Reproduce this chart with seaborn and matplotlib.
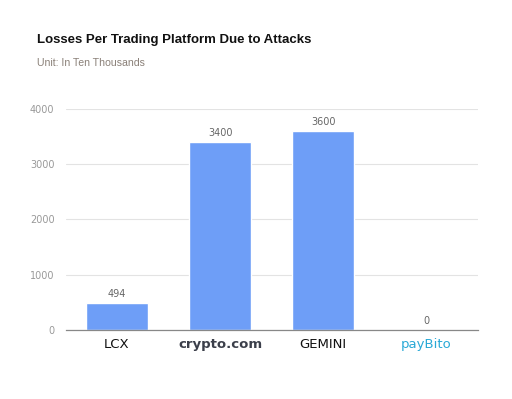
import matplotlib
matplotlib.use('Agg')
import matplotlib.pyplot as plt
import seaborn as sns
import pandas as pd

platforms = ['LCX', 'crypto.com', 'GEMINI', 'payBito']
losses = [494, 3400, 3600, 0]
tick_colors = ['#111111', '#3b3f4a', '#111111', '#29a9d6']
tick_weights = ['normal', 'bold', 'normal', 'normal']
yticks = [0, 1000, 2000, 3000, 4000]

df = pd.DataFrame({'platform': platforms, 'loss': losses})

sns.set_theme(style='white')
plt.rcParams['font.family'] = ['DejaVu Sans']

fig = plt.figure(figsize=(5.12, 3.99), dpi=100)
ax = fig.add_axes([0.128, 0.173, 0.805, 0.554])

sns.barplot(data=df, x='platform', y='loss', color='#6e9ef7', width=0.6,
            saturation=1, ax=ax)

ax.set_ylim(0, 4000)
ax.set_yticks(yticks)
ax.set_yticklabels([str(v) for v in yticks], color='#999999', fontsize=7)
ax.yaxis.grid(True, color='#e3e3e3', linewidth=0.8)
ax.set_axisbelow(True)
ax.tick_params(axis='y', length=0, pad=8)
ax.tick_params(axis='x', length=0, pad=6)
for s in ['top', 'right', 'left']:
    ax.spines[s].set_visible(False)
ax.spines['bottom'].set_color('#888888')
ax.spines['bottom'].set_linewidth(0.9)
ax.set_xlabel('')
ax.set_ylabel('')

ax.set_xticks(range(len(platforms)))
ax.set_xticklabels(platforms, fontsize=9.5)
for lbl, c, w in zip(ax.get_xticklabels(), tick_colors, tick_weights):
    lbl.set_color(c)
    lbl.set_fontweight(w)

for i, v in enumerate(losses):
    ax.annotate(str(v), (i, v), xytext=(0, 3), textcoords='offset points',
                ha='center', va='bottom', fontsize=7, color='#666666')

fig.text(37 / 512, 1 - 40 / 399, 'Losses Per Trading Platform Due to Attacks',
         fontsize=9.5, fontweight='bold', color='#111111', va='center',
         family='Liberation Sans')
fig.text(37 / 512, 1 - 63 / 399, 'Unit: In Ten Thousands',
         fontsize=7.6, color='#8a8078', va='center', family='Liberation Sans')

fig.savefig('out.png', dpi=100)
